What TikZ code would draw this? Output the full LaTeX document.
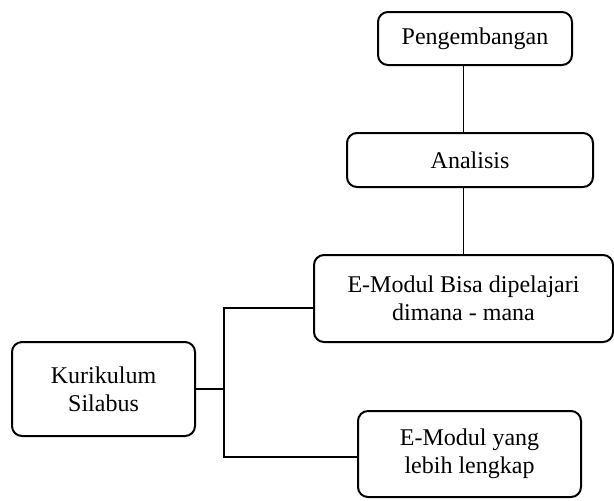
\documentclass[tikz,border=0pt]{standalone}
\usepackage{fontspec}
\setmainfont{Liberation Serif}
\tikzset{
    kotak/.style={draw, line width=1pt, rounded corners=5pt, align=center, inner sep=0pt,
        font=\fontsize{12}{13.8}\selectfont},
    garis/.style={line width=0.6pt}
}
\begin{document}
\begin{tikzpicture}[x=0.5pt, y=-0.5pt]
        \useasboundingbox (0,0) rectangle (614,500);
        \node[kotak, minimum width=97pt, minimum height=26.5pt] (peng) at (475,38.5) {Pengembangan};
        \node[kotak, minimum width=123pt, minimum height=27pt] (anal) at (470,160) {Analisis};
        \node[kotak, minimum width=149.5pt, minimum height=43.5pt] (bisa) at (463.5,298.5) {E-Modul Bisa dipelajari\\dimana - mana};
        \node[kotak, minimum width=91.5pt, minimum height=47pt] (kur) at (103.5,389) {Kurikulum\\Silabus};
        \node[kotak, minimum width=111.5pt, minimum height=43pt] (lengkap) at (469.5,454) {E-Modul yang\\lebih lengkap};
        \coordinate (atas) at (224,308);
        \coordinate (bawah) at (224,457);
        \draw[garis] (peng.south -| bisa.north) -- (anal.north -| bisa.north);
        \draw[garis] (anal.south -| bisa.north) -- (bisa.north);
        \draw[garis] (kur.east) -- (kur.east -| atas);
        \draw[garis] (bisa.west |- atas) -- (atas) -- (bawah) -- (lengkap.west |- bawah);
    \end{tikzpicture}
\end{document}
